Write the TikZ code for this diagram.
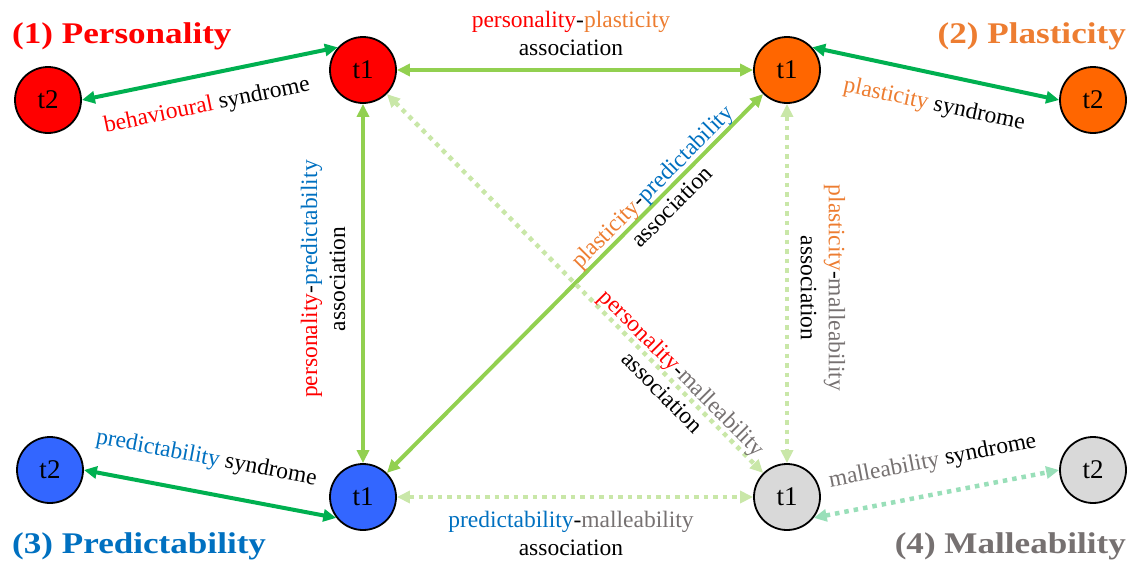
\documentclass[tikz,border=0pt]{standalone}
\usepackage{fontspec}
\setmainfont{Liberation Serif}
\newfontfamily\headfont[FakeStretch=1.17]{Liberation Serif}
\usetikzlibrary{arrows.meta}

\begin{document}
\begin{tikzpicture}[x=1pt, y=-1pt,
  >={Triangle[length=13pt,width=12pt]},
  trait/.style={circle, draw=black, line width=1.8pt, minimum size=66pt, inner sep=0pt, font=\fontsize{27}{30}\selectfont},
  syn/.style={<->, line width=4pt, color=syngreen},
  syndot/.style={<->, line width=4.5pt, color=syngreen!40, dash pattern=on 4.5pt off 5pt},
  assoc/.style={<->, line width=4pt, color=assocgreen},
  assocdot/.style={<->, line width=4.5pt, color=assocgreen!50, dash pattern=on 4.5pt off 5pt},
  lbl/.style={align=center, text=black, font=\fontsize{23.5}{28}\selectfont},
  head/.style={inner sep=0pt, font=\headfont\bfseries\fontsize{30}{36}\selectfont}]
  % Define colors
  \definecolor{persred}{HTML}{FF0000}
  \definecolor{plasfill}{HTML}{FF6600}
  \definecolor{plastext}{HTML}{ED7D31}
  \definecolor{predfill}{HTML}{3366FF}
  \definecolor{predtext}{HTML}{0070C0}
  \definecolor{mallfill}{HTML}{D9D9D9}
  \definecolor{malltext}{HTML}{767171}
  \definecolor{syngreen}{HTML}{00B050}
  \definecolor{assocgreen}{HTML}{92D050}

  % Frame of the picture
  \useasboundingbox (0,0) rectangle (1140,563);

  % Titles
  \node[head, text=persred, anchor=base west] (perstitle) at (12,43) {(1) Personality};
  \node[head, text=plastext, anchor=base east] (plastitle) at (1126,43) {(2) Plasticity};
  \node[head, text=predtext, anchor=base west] (predtitle) at (12,553) {(3) Predictability};
  \node[head, text=malltext, anchor=base east] (malltitle) at (1126,553) {(4) Malleability};

  % Trait nodes
  \node[trait, fill=persred] (perst1) at (363,70) {t1};
  \node[trait, fill=persred] (perst2) at (48,100) {t2};
  \node[trait, fill=plasfill] (plast1) at (787,70) {t1};
  \node[trait, fill=plasfill] (plast2) at (1093,100) {t2};
  \node[trait, fill=predfill] (predt1) at (363,497) {t1};
  \node[trait, fill=predfill] (predt2) at (50,470) {t2};
  \node[trait, fill=mallfill] (mallt1) at (787,497) {t1};
  \node[trait, fill=mallfill] (mallt2) at (1093,470) {t2};

  % Syndromes
  \draw[syn] (perst2.east) -- (perst1.138)
    node[lbl, pos=0.465, sloped, below=15pt] (behlbl) {\textcolor{persred}{behavioural} syndrome};
  \draw[syn] (plast1.42) -- (plast2.west)
    node[lbl, pos=0.52, sloped, below=15pt] (plaslbl) {\textcolor{plastext}{plasticity} syndrome};
  \draw[syn] (predt2.east) -- (predt1.218)
    node[lbl, pos=0.46, sloped, above=18pt] (predlbl) {\textcolor{predtext}{predictability} syndrome};
  \draw[syndot] (mallt1.322) -- (mallt2.west)
    node[lbl, pos=0.51, sloped, above=16pt] (malllbl) {\textcolor{malltext}{malleability} syndrome};

  % Associations
  \draw[assoc] (perst1) -- (plast1);
  \draw[assoc] (perst1) -- (predt1);
  \draw[assoc] (predt1) -- (plast1)
    node[lbl, pos=0.73, sloped] (plpdlbl) {\textcolor{plastext}{plasticity}-\textcolor{predtext}{predictability}\\association};
  \draw[assocdot] (perst1) -- (mallt1)
    node[lbl, pos=0.76, sloped] (pmlbl) {\textcolor{persred}{personality}-\textcolor{malltext}{malleability}\\association};
  \draw[assocdot] (plast1) -- (mallt1);
  \draw[assocdot] (predt1) -- (mallt1);

  % Association labels
  \node[lbl] (pplbl) at (571,33) {\textcolor{persred}{personality}-\textcolor{plastext}{plasticity}\\association};
  \node[lbl, rotate=90] (pdlbl) at (323,279) {\textcolor{persred}{personality}-\textcolor{predtext}{predictability}\\association};
  \node[lbl, rotate=-90] (plmlbl) at (823,288) {\textcolor{plastext}{plasticity}-\textcolor{malltext}{malleability}\\association};
  \node[lbl] (pdmlbl) at (571,533) {\textcolor{predtext}{predictability}-\textcolor{malltext}{malleability}\\association};
\end{tikzpicture}
\end{document}
